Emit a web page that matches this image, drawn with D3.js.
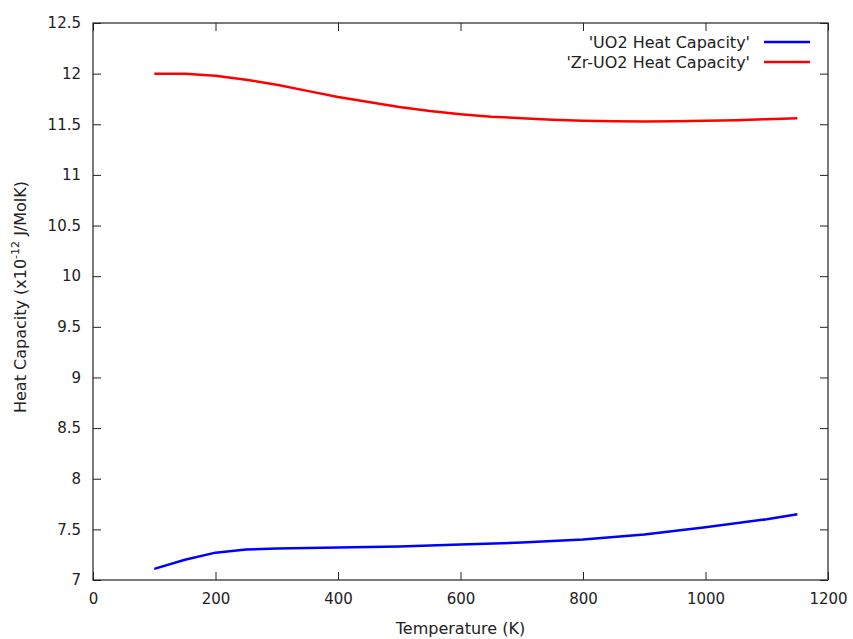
<!DOCTYPE html>
<html>
<head>
<meta charset="utf-8">
<script src="https://cdn.jsdelivr.net/npm/d3@7"></script>
<style>
  body { margin: 0; background: #fff; }
  text { font-family: "DejaVu Sans", sans-serif; fill: #222; }
</style>
</head>
<body>
<svg width="853" height="639"></svg>
<script>
// temperatures (K)
const uo2Temps = [100, 150, 200, 250, 300, 400, 500, 600, 700, 800, 900, 1000, 1100, 1150];
const uo2Values = [7.11, 7.20, 7.27, 7.30, 7.31, 7.32, 7.33, 7.35, 7.37, 7.40, 7.45, 7.52, 7.60, 7.65];

const zrTemps = [100, 150, 200, 250, 300, 350, 400, 450, 500, 550, 600, 650, 700, 750, 800, 850, 900, 950, 1000, 1050, 1100, 1150];
const zrValues = [12.0, 12.0, 11.98, 11.94, 11.89, 11.83, 11.77, 11.72, 11.67, 11.63, 11.60, 11.575, 11.56, 11.545, 11.535, 11.53, 11.528, 11.53, 11.535, 11.54, 11.55, 11.56];

const xTicks = [0, 200, 400, 600, 800, 1000, 1200];
const yTicks = [7, 7.5, 8, 8.5, 9, 9.5, 10, 10.5, 11, 11.5, 12, 12.5];

const seriesNames = ["'UO2 Heat Capacity'", "'Zr-UO2 Heat Capacity'"];
const seriesColors = ["#0000ff", "#ff0000"];

const svg = d3.select("svg");
const plotLeft = 93, plotRight = 828, plotTop = 23, plotBottom = 580;

const x = d3.scaleLinear().domain([0, 1200]).range([plotLeft, plotRight]);
const y = d3.scaleLinear().domain([7, 12.5]).range([plotBottom, plotTop]);

// ticks on all four sides, pointing inward (gnuplot style)
const axisColor = "#222";
const tickLen = 8;

svg.append("g")
    .attr("transform", "translate(0," + plotBottom + ")")
    .call(d3.axisBottom(x).tickValues(xTicks).tickSize(-tickLen).tickPadding(13).tickFormat(d3.format("d")))
    .call(g => g.select(".domain").remove());

svg.append("g")
    .attr("transform", "translate(0," + plotTop + ")")
    .call(d3.axisTop(x).tickValues(xTicks).tickSize(-tickLen).tickFormat(""))
    .call(g => g.select(".domain").remove());

svg.append("g")
    .attr("transform", "translate(" + plotLeft + ",0)")
    .call(d3.axisLeft(y).tickValues(yTicks).tickSize(-tickLen).tickPadding(12).tickFormat(d => d))
    .call(g => g.select(".domain").remove());

svg.append("g")
    .attr("transform", "translate(" + plotRight + ",0)")
    .call(d3.axisRight(y).tickValues(yTicks).tickSize(-tickLen).tickFormat(""))
    .call(g => g.select(".domain").remove());

svg.selectAll(".tick line").attr("stroke", axisColor).attr("stroke-width", 1);
svg.selectAll(".tick text").attr("font-size", 15).style("fill", "#222");

// frame
svg.append("rect")
    .attr("x", plotLeft)
    .attr("y", plotTop)
    .attr("width", plotRight - plotLeft)
    .attr("height", plotBottom - plotTop)
    .attr("fill", "none")
    .attr("stroke", axisColor)
    .attr("stroke-width", 1.2);

// lines
const line = d3.line().x(d => x(d[0])).y(d => y(d[1]));

const series = [
    d3.zip(uo2Temps, uo2Values),
    d3.zip(zrTemps, zrValues)
];

series.forEach((pts, i) => {
    svg.append("path")
        .datum(pts)
        .attr("d", line)
        .attr("fill", "none")
        .attr("stroke", seriesColors[i])
        .attr("stroke-width", 2.5)
        .attr("stroke-linejoin", "round");
});

// legend
seriesNames.forEach((name, i) => {
    const ly = 42 + i * 20;
    svg.append("text")
        .attr("x", 750)
        .attr("y", ly)
        .attr("dy", "0.35em")
        .attr("text-anchor", "end")
        .attr("font-size", 16)
        .text(name);
    svg.append("line")
        .attr("x1", 764)
        .attr("x2", 810)
        .attr("y1", ly)
        .attr("y2", ly)
        .attr("stroke", seriesColors[i])
        .attr("stroke-width", 2.5);
});

// axis labels
svg.append("text")
    .attr("x", (plotLeft + plotRight) / 2)
    .attr("y", 634)
    .attr("text-anchor", "middle")
    .attr("font-size", 16)
    .text("Temperature (K)");

const yl = svg.append("text")
    .attr("transform", "translate(26," + 297 + ") rotate(-90)")
    .attr("text-anchor", "middle")
    .attr("font-size", 16);
yl.append("tspan").text("Heat Capacity (x10");
yl.append("tspan").attr("dy", -7).attr("font-size", 11).text("-12");
yl.append("tspan").attr("dy", 7).text(" J/MolK)");
</script>
</body>
</html>
